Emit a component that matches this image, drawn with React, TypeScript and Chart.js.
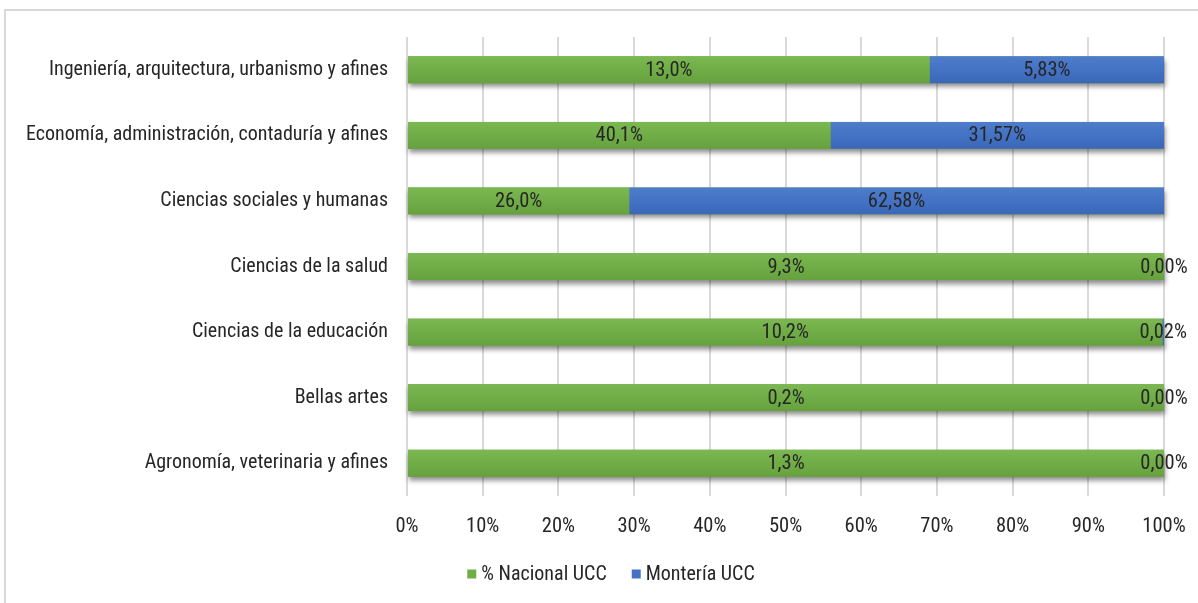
import React, { useEffect, useRef } from "react";
import { Chart, registerables } from "chart.js";

Chart.register(...registerables);

const categories = [
  "Ingeniería, arquitectura, urbanismo y afines",
  "Economía, administración, contaduría y afines",
  "Ciencias sociales y humanas",
  "Ciencias de la salud",
  "Ciencias de la educación",
  "Bellas artes",
  "Agronomía, veterinaria y afines",
];
const nacional = [13.0, 40.1, 26.0, 9.3, 10.2, 0.2, 1.3];
const monteria = [5.83, 31.57, 62.58, 0.0, 0.02, 0.0, 0.0];
const seriesNames = ["% Nacional UCC", "Montería UCC"];
const xTicks = [0, 10, 20, 30, 40, 50, 60, 70, 80, 90, 100];

const FONT = "'Roboto Condensed', 'Liberation Sans Narrow', Roboto, sans-serif";
const GREEN = "#70AD47";
const BLUE = "#4472C4";
const TEXT = "#262626";

const share = (a: number, b: number) => (a + b === 0 ? 0 : (a / (a + b)) * 100);
const nacShare = nacional.map((v, i) => share(v, monteria[i]));
const monShare = monteria.map((v, i) => share(v, nacional[i]));
const fmt = (v: number, d: number) => v.toFixed(d).replace(".", ",") + "%";

const BAR_PCT = 0.41;

function barFill(top: string, mid: string, bottom: string) {
  return (c: any) => {
    const chart = c.chart;
    const y = chart.scales && chart.scales.y;
    if (!y || c.dataIndex === undefined || !chart.chartArea) return mid;
    const cy = y.getPixelForValue(c.dataIndex);
    const h = ((chart.chartArea.bottom - chart.chartArea.top) / categories.length) * BAR_PCT;
    const g = chart.ctx.createLinearGradient(0, cy - h / 2, 0, cy + h / 2);
    g.addColorStop(0, top);
    g.addColorStop(0.5, mid);
    g.addColorStop(1, bottom);
    return g;
  };
}

const framePlugin = {
  id: "frame",
  beforeDraw(chart: any) {
    const ctx = chart.ctx;
    ctx.save();
    ctx.strokeStyle = "#d9d9d9";
    ctx.lineWidth = 2;
    ctx.beginPath();
    ctx.moveTo(5, 700);
    ctx.lineTo(5, 10);
    ctx.lineTo(1300, 10);
    ctx.stroke();
    ctx.restore();
  },
};

const shadowPlugin = {
  id: "barShadow",
  beforeDatasetsDraw(chart: any) {
    const ctx = chart.ctx;
    const m0 = chart.getDatasetMeta(0);
    const m1 = chart.getDatasetMeta(1);
    ctx.save();
    ctx.shadowColor = "rgba(0,0,0,0.45)";
    ctx.shadowBlur = 5;
    ctx.shadowOffsetY = 4;
    ctx.shadowOffsetX = 1;
    ctx.fillStyle = "#6a9f44";
    m0.data.forEach((b: any, i: number) => {
      const b1 = m1.data[i];
      const x0 = Math.min(b.base, b.x);
      const x1 = Math.max(b1.x, b.x);
      ctx.fillRect(x0, b.y - b.height / 2, x1 - x0, b.height);
    });
    ctx.restore();
  },
};

const labelPlugin = {
  id: "valueLabels",
  afterDatasetsDraw(chart: any) {
    const ctx = chart.ctx;
    ctx.save();
    ctx.font = `20.5px ${FONT}`;
    ctx.fillStyle = TEXT;
    ctx.textAlign = "center";
    ctx.textBaseline = "middle";
    const raw = [nacional, monteria];
    const dec = [1, 2];
    chart.data.datasets.forEach((_: any, di: number) => {
      const meta = chart.getDatasetMeta(di);
      meta.data.forEach((bar: any, i: number) => {
        const cx = (bar.x + bar.base) / 2;
        ctx.fillText(fmt(raw[di][i], dec[di]), cx, bar.y + 1);
      });
    });
    ctx.restore();
  },
};

const legendPlugin = {
  id: "customLegend",
  afterDraw(chart: any) {
    const ctx = chart.ctx;
    ctx.save();
    ctx.font = `20px ${FONT}`;
    ctx.textBaseline = "middle";
    ctx.textAlign = "left";
    const colors = [GREEN, BLUE];
    const box = 9;
    const gapText = 5;
    const gapItem = 25;
    const widths = seriesNames.map((n) => ctx.measureText(n).width);
    const total =
      widths.reduce((a: number, w: number) => a + box + gapText + w, 0) + gapItem * (seriesNames.length - 1);
    const cxCenter = 611;
    const cy = 574;
    let x = cxCenter - total / 2;
    seriesNames.forEach((n, i) => {
      ctx.fillStyle = colors[i];
      ctx.fillRect(x, cy - box / 2, box, box);
      x += box + gapText;
      ctx.fillStyle = TEXT;
      ctx.fillText(n, x, cy + 1);
      x += widths[i] + gapItem;
    });
    ctx.restore();
  },
};

export default function App() {
  const ref = useRef<HTMLCanvasElement>(null);
  useEffect(() => {
    document.body.style.margin = "0";
    const chart = new Chart(ref.current!, {
      type: "bar",
      data: {
        labels: categories,
        datasets: [
          {
            label: seriesNames[0],
            data: nacShare,
            backgroundColor: barFill("#7BB851", "#70AD47", "#66A13D"),
            barPercentage: BAR_PCT,
            categoryPercentage: 1,
          },
          {
            label: seriesNames[1],
            data: monShare,
            backgroundColor: barFill("#4F7DCC", "#4472C4", "#3A67B8"),
            barPercentage: BAR_PCT,
            categoryPercentage: 1,
          },
        ],
      },
      options: {
        indexAxis: "y",
        animation: false,
        responsive: false,
        devicePixelRatio: 1,
        layout: { padding: { left: 0, right: 34, top: 37, bottom: 0 } },
        scales: {
          x: {
            stacked: true,
            min: 0,
            max: 100,
            afterBuildTicks(scale: any) {
              scale.ticks = xTicks.map((v) => ({ value: v }));
            },
            afterFit(scale: any) {
              scale.height = 107;
              scale.paddingLeft = 0;
              scale.paddingRight = 0;
            },
            grid: { color: "#d9d9d9", lineWidth: 2, drawTicks: false },
            border: { display: false },
            ticks: {
              padding: 19,
              color: TEXT,
              font: { family: FONT, size: 20.5 },
              callback: (v: any) => v + "%",
            },
          },
          y: {
            stacked: true,
            afterFit(scale: any) {
              scale.width = 407;
              scale.paddingTop = 0;
              scale.paddingBottom = 0;
            },
            grid: { display: false, drawTicks: false },
            border: { display: false },
            ticks: {
              padding: 19,
              color: TEXT,
              font: { family: FONT, size: 20 },
            },
          },
        },
        plugins: {
          legend: { display: false },
          tooltip: { enabled: false },
        },
      },
      plugins: [framePlugin, shadowPlugin, labelPlugin, legendPlugin],
    } as any);
    return () => chart.destroy();
  }, []);
  return (
    <div style={{ width: 1198, height: 603, background: "#fff" }}>
      <canvas ref={ref} width={1198} height={603} style={{ display: "block" }} />
    </div>
  );
}
